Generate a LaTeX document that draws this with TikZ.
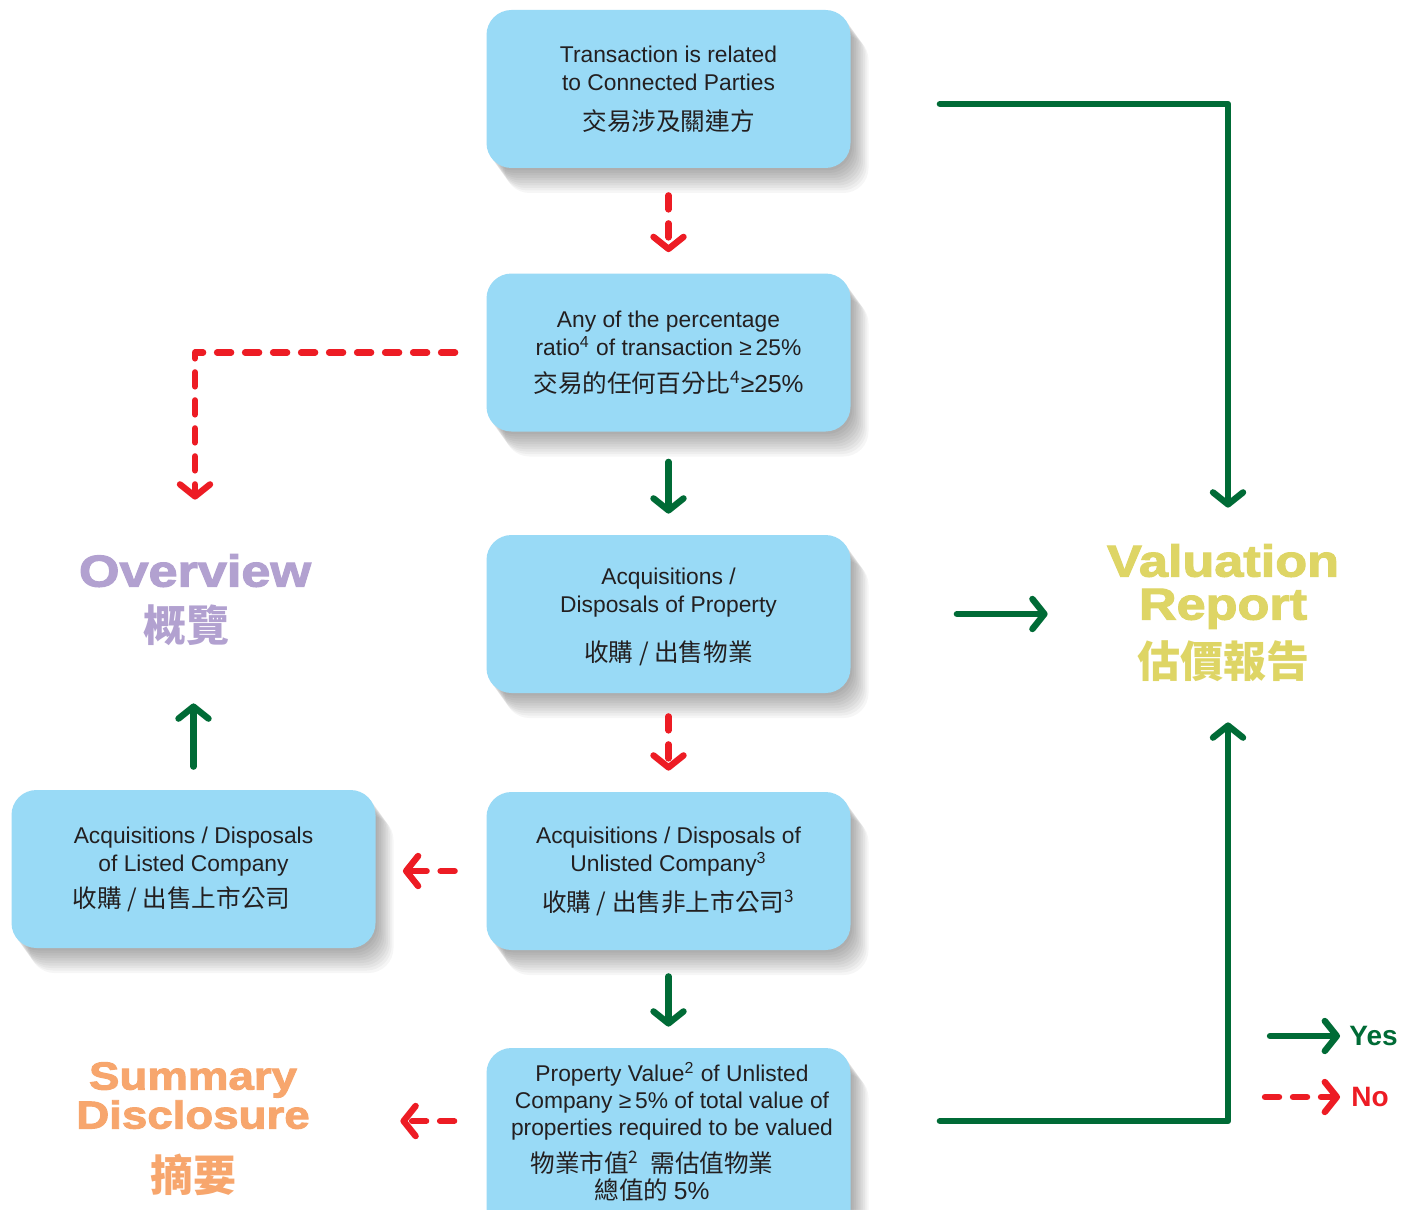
\documentclass[tikz,border=0pt]{standalone}
\usepackage{fontspec}
\setmainfont{Liberation Sans}
\newfontfamily\cjk{Noto Sans CJK TC}
\newfontfamily\heavy[FakeStretch=1.17,FakeBold=2.5]{Liberation Sans}
\usetikzlibrary{arrows.meta,calc,shadows}
\definecolor{boxblue}{RGB}{153,218,246}
\definecolor{txtdark}{RGB}{35,31,32}
\definecolor{ovpurple}{RGB}{178,161,208}
\definecolor{sdorange}{RGB}{247,166,109}
\definecolor{vryellow}{RGB}{222,213,101}
\definecolor{ygreen}{RGB}{0,107,54}
\definecolor{nred}{RGB}{237,28,36}
\newcommand\entext{\fontsize{11.4}{14}\selectfont\lineskiplimit=-100pt}
\newcommand\zhline[1]{{\cjk\fontsize{12.3}{14}\selectfont #1}}
\newcommand\zhbig[1]{{\cjk\bfseries\fontsize{21.5}{28}\selectfont #1}}
\newcommand\pushleft[1]{\rule{#1}{0pt}}
\tikzset{
  sh/.style={general shadow={shadow xshift=#1*0.9pt, shadow yshift=-#1*1.25pt, fill=black, opacity=0.035}},
  softshadow/.style={sh=1,sh=2,sh=3,sh=4,sh=5,sh=6,sh=7,sh=8,sh=9,sh=10},
  box/.style={rounded corners=12.5pt, fill=boxblue, minimum width=182pt,
    minimum height=79pt, align=center, text=txtdark, inner sep=0pt, font=\entext, softshadow},
  boxtext/.style={align=center, text=txtdark, inner sep=0pt, font=\entext},
  bigtext/.style={align=center, inner sep=0pt, minimum width=130pt, minimum height=85pt},
  tip/.style={-{Straight Barb[length=6pt,width=15pt,round]}},
  yesarrow/.style={draw=ygreen, line width=3.2pt, line cap=round, line join=round, tip},
  noarrow/.style={draw=nred, line width=3.2pt, line cap=round, line join=round,
    dash pattern=on 7pt off 7pt, tip},
}
\begin{document}
\begin{tikzpicture}[x=0.5pt,y=-0.5pt]
\useasboundingbox[fill=white] (0,0) rectangle (1417,1209);

% boxes
\node[box] (b1) at (668.5,89) {Transaction is related\\to Connected Parties\\[6pt]\zhline{交易涉及關連方}};
\node[box] (b2) at (668.5,352.5) {Any of the percentage\\ratio\textsuperscript{4} of transaction {≥}\,25\%\\[4.5pt]\zhline{交易的任何百分比\textsuperscript{4}{\rmfamily ≥25\%}}};
\node[box] (b3) at (668.5,614) {\rule{0pt}{11pt}Acquisitions /\\Disposals of Property\\[10.5pt]\zhline{收購 / 出售物業}};
\node[box] (b4) at (668.5,871) {Acquisitions / Disposals of\\Unlisted Company\textsuperscript{3}\\[6pt]\zhline{收購 / 出售非上市公司\textsuperscript{3}}};
\node[box, minimum height=101pt] (b5) at (668.5,1149) {};
\node[boxtext, font={\fontsize{11.4}{13.5}\selectfont\lineskiplimit=-100pt}] (b5t) at (672,1131.5)
  {Property Value\textsuperscript{2} of Unlisted\\Company {≥}\,5\% of total value of\\properties required to be valued\\[5pt]
   \zhline{物業市值\textsuperscript{2}\ \ 需估值物業\pushleft{20pt}}\\\zhline{總值的 {\rmfamily 5\%}\pushleft{20pt}}};
\node[box] (b6) at (193.5,869) {Acquisitions / Disposals\\of Listed Company\\[4pt]\zhline{收購 / 出售上市公司\pushleft{12pt}}};

% big labels
\node[bigtext, text=ovpurple, font={\heavy\bfseries\fontsize{22.3}{27.5}\selectfont\lineskiplimit=-100pt}]
  (ov) at (195,600) {Overview\\\zhbig{概覽\pushleft{9pt}}};
\node[bigtext, minimum width=140pt, text=vryellow, font={\heavy\bfseries\fontsize{22.3}{21.5}\selectfont\lineskiplimit=-100pt}]
  (vr) at (1223,613) {Valuation\\Report\\[7.5pt]\zhbig{估價報告}};
\node[bigtext, text=sdorange, font={\heavy\bfseries\fontsize{19.5}{19.5}\selectfont\lineskiplimit=-100pt}]
  (sd) at (193,1129) {Summary\\Disclosure\\[12pt]\zhbig{摘要}};

% legend
\node[anchor=west, inner sep=0pt, text=ygreen, font={\bfseries\fontsize{14}{14}\selectfont}] (yes) at (1349,1036) {Yes};
\node[anchor=west, inner sep=0pt, text=nred, font={\bfseries\fontsize{14}{14}\selectfont}] (no) at (1351,1097) {No};
\draw[yesarrow, shorten >=4.5pt] ($(yes.west)+(-79,0)$) -- (yes.west);
\draw[noarrow, shorten >=5.5pt] ($(no.west)+(-86,0)$) -- (no.west);

% connectors
\draw[noarrow, shorten <=13.5pt, shorten >=10.5pt] (b1.south) -- (b2.north);
\draw[yesarrow, shorten <=15pt, shorten >=10.5pt] (b2.south) -- (b3.north);
\draw[noarrow, shorten <=11.5pt, shorten >=10.5pt] (b3.south) -- (b4.north);
\draw[yesarrow, shorten <=13pt, shorten >=10.5pt] (b4.south) -- (b5.north);
\draw[noarrow, shorten <=15.5pt, shorten >=7.5pt] (b2.west) -| (ov.north);
\draw[noarrow, shorten <=15.75pt, shorten >=13.5pt] (b4.west) -- (b4.west -| b6.east);
\draw[noarrow, shorten <=16pt, shorten >=38.5pt] ($(b5.west)+(0,-28)$) -- ($(sd.east)+(0,-8)$);
\draw[yesarrow, shorten <=11.5pt, shorten >=9pt] (b6.north) -- (b6.north |- ov.south);
\draw[yesarrow, shorten <=53pt, shorten >=17.5pt] (b3.east) -- (b3.east -| vr.west);
\draw[yesarrow, shorten <=44.5pt, shorten >=10pt] ($(b1.east)+(0,15)$) -| ($(vr.north)+(5,0)$);
\draw[yesarrow, shorten <=44.5pt, shorten >=12pt] ($(b5.east)+(0,-28)$) -| ($(vr.south)+(5,0)$);
\end{tikzpicture}
\end{document}
